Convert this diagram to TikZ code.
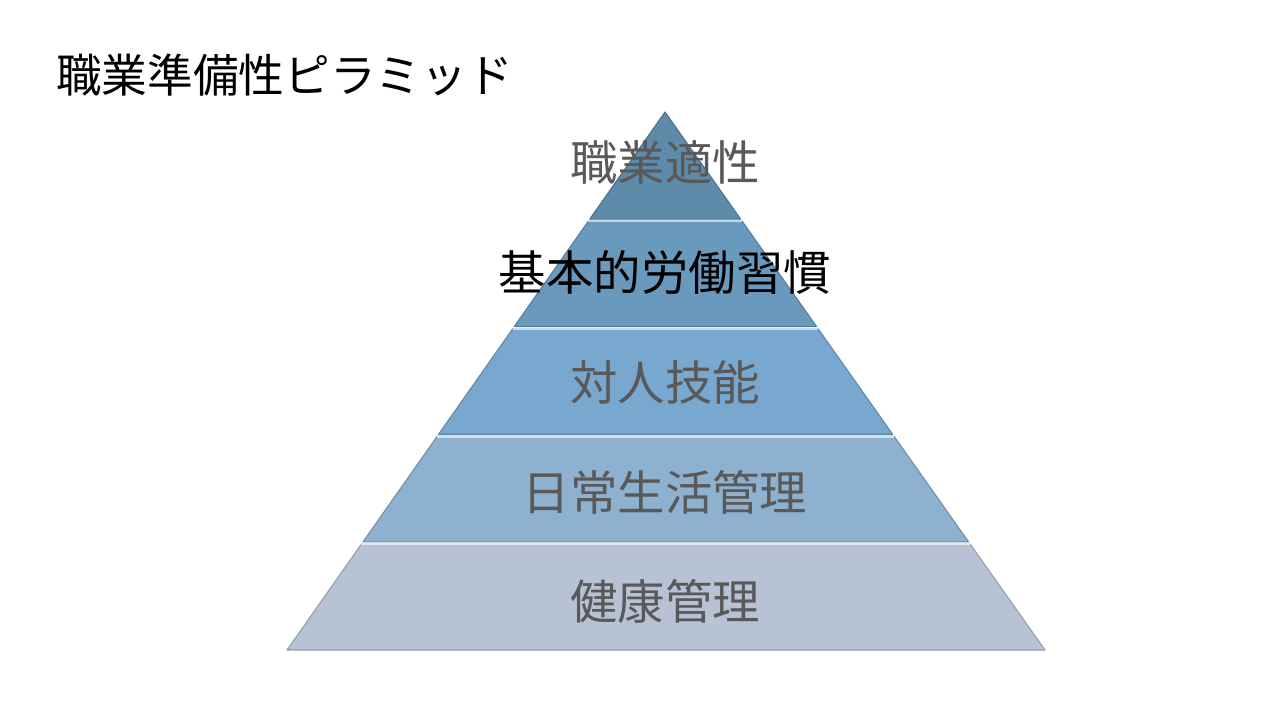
\documentclass[tikz,border=0pt]{standalone}
\usepackage{fontspec}
\newfontfamily\jpfont{Noto Sans CJK JP}
\usetikzlibrary{calc}
\definecolor{layerA}{HTML}{5E8BAA}
\definecolor{layerB}{HTML}{6A99BE}
\definecolor{layerC}{HTML}{78A8CF}
\definecolor{layerD}{HTML}{8FB1D0}
\definecolor{layerE}{HTML}{B7C3D5}
\definecolor{labelgray}{HTML}{595959}
\tikzset{
  band/.style={fill=#1, draw=#1!80!black, line width=0.6pt, line join=round},
  bandtop/.style={draw=white!60!#1, line width=1.4pt},
  layerlabel/.style={font=\jpfont\fontsize{27}{30}\selectfont, text=labelgray},
}
% one layer of the pyramid, from fraction #1 to fraction #2 of the height
\newcommand{\pyrband}[3]{%
  \fill[band=#3] ($(apex)!#1!(baseL)$) -- ($(apex)!#1!(baseR)$)
                 -- ($(apex)!#2!(baseR)$) -- ($(apex)!#2!(baseL)$) -- cycle;
  \draw[bandtop=#3] ($(apex)!#1!(baseL)$) -- ($(apex)!#1!(baseR)$);
}
\begin{document}
\begin{tikzpicture}[x=0.02cm,y=-0.02cm]
    \useasboundingbox (0,0) rectangle (1280,720);

    \coordinate (apex) at (665,112);
    \coordinate (baseL) at (287,650);
    \coordinate (baseR) at (1045,650);

    \pyrband{0}{0.199}{layerA}
    \pyrband{0.203}{0.399}{layerB}
    \pyrband{0.403}{0.599}{layerC}
    \pyrband{0.603}{0.799}{layerD}
    \pyrband{0.803}{1}{layerE}

    \node[anchor=west, font=\jpfont\fontsize{26}{29}\selectfont] (title) at (50,75) {職業準備性ピラミッド};

    \node[layerlabel] (aptitude) at (665,162) {職業適性};
    \node[layerlabel, text=black] (habits) at (665,272) {基本的労働習慣};
    \node[layerlabel] (social) at (665,382) {対人技能};
    \node[layerlabel] (daily) at (665,492) {日常生活管理};
    \node[layerlabel] (health) at (665,601) {健康管理};
\end{tikzpicture}
\end{document}
